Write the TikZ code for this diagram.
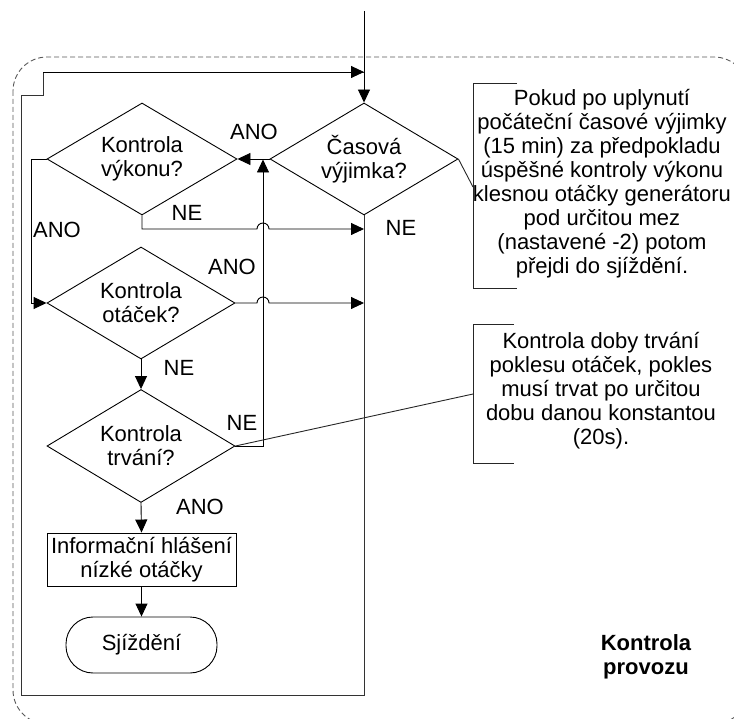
\documentclass[tikz,border=0pt]{standalone}
\usepackage{fontspec}
\setmainfont{Liberation Sans}
\usetikzlibrary{shapes.geometric,arrows.meta}
\begin{document}
\begin{tikzpicture}[x=1pt,y=1pt,
  every node/.style={font=\fontsize{22pt}{24pt}\selectfont, inner sep=0pt},
  line/.style={line width=0.9pt, draw=black},
  arr/.style={line, -{Triangle[length=13pt,width=12pt]}},
  decision/.style={diamond, draw, line width=0.9pt, aspect=1.7,
    minimum width=188pt, minimum height=112pt, align=center, inner sep=0pt},
  procbox/.style={rectangle, draw, line width=0.9pt, minimum width=189pt,
    minimum height=53pt, align=center},
  termbox/.style={rectangle, draw, line width=0.9pt, rounded corners=27pt,
    minimum width=151pt, minimum height=56pt},
  note/.style={align=center},
  bracket/.style={line width=0.9pt, draw=black!85},
  frame/.style={draw=black!65, line width=0.9pt, dash pattern=on 5pt off 3pt},
  loopline/.style={line width=0.9pt, draw=black!80}
]
\useasboundingbox (0,0) rectangle (734,-719);
\clip (0,0) rectangle (734,-719);

% group frame
\draw[frame, rounded corners=34pt] (13,-57) rectangle (748,-724);
\node[font=\fontsize{22pt}{24pt}\selectfont\bfseries, align=center] (grp) at (646,-657) {Kontrola\\provozu};

% decisions and steps
\node[decision] (cas) at (364,-159) {Časová\\výjimka?};
\node[decision, minimum width=190pt] (vyk) at (142,-159) {Kontrola\\výkonu?};
\node[decision] (ota) at (141,-303) {Kontrola\\otáček?};
\node[decision, minimum height=113pt] (trv) at (141,-446) {Kontrola\\trvání?};
\node[procbox] (info) at (141.5,-559.5) {Informační hlášení\\nízké otáčky};
\node[termbox] (stop) at (141.5,-645) {Sjíždění};

% notes
\node[note] (n1) at (602,-184) {Pokud po uplynutí\\počáteční časové výjimky\\(15 min) za předpokladu\\úspěšné kontroly výkonu\\klesnou otáčky generátoru\\pod určitou mez\\(nastavené -2) potom\\přejdi do sjíždění.};
\node[note] (n2) at (601,-391) {Kontrola doby trvání\\poklesu otáček, pokles\\musí trvat po určitou\\dobu danou konstantou\\(20s).};

% entry
\coordinate (entry) at (364,-11);
\draw[arr] (entry) -- (cas.north);

% outer loop back to the top
\coordinate (lbr) at (364,-695);
\coordinate (lbl) at (21,-695);
\coordinate (ltop) at (364,-72);
\draw[loopline] (cas.south) -- (lbr) -- (lbl) -- (21,-95) -- (43,-95) -- (43,-72) -- (ltop);
\draw[arr] (43,-72) -- (ltop);

% ANO: time exemption -> power check
\draw[arr] (cas.west) -- (vyk.east);
\node (l1) at (254,-132) {ANO};
\node (l2) at (401,-228) {NE};

% power check NE -> loop
\draw[arr] (vyk.south) -- (142,-229) -- (257,-229) arc[start angle=180,end angle=0,radius=6] -- (364,-229);
\node (l3) at (187,-213) {NE};

% power check ANO -> speed check
\draw[arr] (vyk.west) -- (31,-159) -- (31,-303) -- (ota.west);
\node (l4) at (57,-230) {ANO};

% speed check ANO -> loop
\draw[arr] (ota.east) -- (257,-303) arc[start angle=180,end angle=0,radius=6] -- (364,-303);
\node (l5) at (232,-267) {ANO};

% speed check NE -> duration check
\draw[arr] (ota.south) -- (trv.north);
\node (l6) at (179,-368) {NE};

% duration check NE -> back up
\draw[arr] (trv.east) -- (263,-446) -- (263,-159.5);
\node (l7) at (242,-423) {NE};

% duration check ANO -> message -> stop
\draw[arr] (trv.south) -- (info.north);
\node (l8) at (200,-507) {ANO};
\draw[arr] (info.south) -- (stop.north);

% annotation brackets and leaders
\draw[bracket] (517,-83) -- (473,-83) -- (473,-288) -- (517,-288);
\draw[bracket] (cas.east) -- (473,-187);
\draw[bracket] (514,-324) -- (473,-324) -- (473,-463) -- (514,-463);
\draw[bracket] (trv.east) -- (473,-394);
\end{tikzpicture}
\end{document}
